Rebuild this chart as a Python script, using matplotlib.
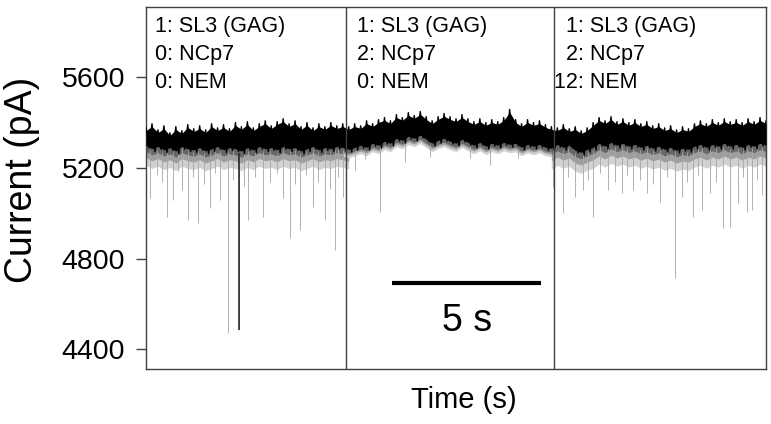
import numpy as np
import matplotlib.pyplot as plt
from matplotlib import transforms

plt.rcParams['font.family'] = ['Liberation Sans', 'DejaVu Sans']

# trace envelope read every 0.2 s (pA): upper edge and lower edge of the dense band
top_p1 = [5376, 5394, 5367, 5385, 5354, 5381, 5363, 5390, 5372, 5385, 5367, 5394,
          5376, 5390, 5372, 5399, 5381, 5403, 5376, 5394, 5407, 5385, 5403, 5416,
          5394, 5407, 5381, 5399, 5376, 5394, 5381, 5399, 5385, 5394]
bot_p1 = [5287, 5272, 5282, 5267, 5277, 5262, 5282, 5272, 5267, 5277, 5262, 5272,
          5282, 5267, 5277, 5272, 5262, 5277, 5267, 5282, 5272, 5277, 5267, 5282,
          5272, 5277, 5262, 5272, 5282, 5267, 5277, 5272, 5282, 5277]
top_p2 = [5381, 5394, 5385, 5407, 5394, 5412, 5421, 5407, 5434, 5421, 5443, 5430,
          5448, 5425, 5407, 5425, 5439, 5425, 5416, 5434, 5416, 5403, 5416, 5399,
          5412, 5403, 5421, 5457, 5412, 5394, 5412, 5399, 5407, 5390, 5381]
bot_p2 = [5269, 5278, 5287, 5278, 5296, 5287, 5305, 5296, 5318, 5309, 5327, 5318,
          5332, 5314, 5296, 5309, 5318, 5305, 5296, 5314, 5300, 5287, 5300, 5283,
          5296, 5287, 5300, 5291, 5296, 5278, 5291, 5283, 5291, 5278, 5274]
top_p3 = [5376, 5390, 5372, 5381, 5363, 5376, 5399, 5421, 5407, 5425, 5403, 5416,
          5399, 5412, 5394, 5403, 5385, 5394, 5376, 5385, 5367, 5381, 5372, 5394,
          5407, 5394, 5412, 5399, 5416, 5403, 5412, 5399, 5416, 5403, 5421, 5407]
bot_p3 = [5291, 5278, 5287, 5265, 5256, 5269, 5278, 5296, 5283, 5300, 5287, 5296,
          5283, 5291, 5278, 5287, 5274, 5283, 5269, 5278, 5265, 5274, 5269, 5283,
          5291, 5278, 5291, 5283, 5296, 5283, 5291, 5278, 5291, 5283, 5296, 5287]

# depth of the grey haze of small events below the band, per panel (pA)
haze_depth = [75, 25, 80]

# downward events: time (s) and lowest current (pA)
spike_t = [0.13, 0.70, 0.91, 1.21, 1.41, 1.74, 2.15, 2.48, 2.75, 3.12, 3.42, 3.93,
           4.60, 4.83, 5.17, 5.60, 6.01, 6.34, 6.61,
           0.37, 0.54, 1.07, 1.58, 1.95, 2.32, 2.92, 3.29, 3.66, 4.16, 4.40, 5.00,
           5.37, 5.77, 6.17, 6.44,
           7.01, 7.85, 8.69, 11.54, 12.48, 13.66, 7.35, 9.53, 10.87,
           13.99, 14.40, 14.66, 15.00, 15.50, 15.97, 16.34, 16.81, 17.25, 17.75,
           17.99, 18.36, 18.66, 18.93, 19.36, 19.60, 19.87, 20.17, 20.34, 20.67,
           14.16, 14.83, 15.23, 15.74, 16.14, 16.58, 17.01, 17.48, 18.15, 18.52,
           19.13, 20.03, 20.50]
spike_min = [5067, 4983, 5058, 5103, 4970, 4956, 5022, 5058, 4472, 4485, 4970, 4983,
             5067, 4892, 4925, 5027, 4970, 4839, 5071,
             5168, 5138, 5188, 5158, 5128, 5178, 5148, 5118, 5158, 5138, 5178, 5128,
             5168, 5138, 5108, 5158,
             5190, 5005, 5226, 5213, 5244, 5117, 5238, 5248, 5243,
             5000, 5071, 5103, 4983, 5103, 5090, 5103, 5089, 5049, 4715,
             5071, 4983, 5014, 5089, 4935, 4939, 5045, 5005, 5014, 5080,
             5158, 5148, 5178, 5138, 5168, 5148, 5128, 5158, 5138, 5168,
             5138, 5158, 5148]
dark_event_t = 3.12  # the one event drawn dark in the trace

panel_edges = [0.0, 6.71, 13.69, 20.8]
panel_counts = [["1", "0", "0"], ["1", "2", "0"], ["1", "2", "12"]]
panel_names = ["SL3 (GAG)", "NCp7", "NEM"]
y_ticks = [4400, 4800, 5200, 5600]
scale_bar = (8.26, 13.26, 4693)  # start, end (s), level (pA)

top = np.array(top_p1 + top_p2 + top_p3, dtype=float)
bot = np.array(bot_p1 + bot_p2 + bot_p3, dtype=float)
t = np.round(np.arange(len(top)) * 0.2, 1)

fig = plt.figure(figsize=(7.71, 4.24), dpi=100)
ax = fig.add_axes([0.1894, 0.1297, 0.8041, 0.8538])

# haze of small events under the band (reaches up into the band so its gaps look grey)
for i in range(3):
    m = (t >= panel_edges[i] - 0.2) & (t <= panel_edges[i + 1] + 0.2)
    ax.fill_between(t[m], bot[m] - haze_depth[i], bot[m] + 15, color='0.82', lw=0, zorder=1)
    ax.fill_between(t[m], bot[m] - haze_depth[i] * 0.55, bot[m] + 15, color='0.62', lw=0, zorder=1)
    ax.fill_between(t[m], bot[m] - haze_depth[i] * 0.2, bot[m] + 15, color='0.4', lw=0, zorder=1)

# events
sp_t = np.array(spike_t)
sp_min = np.array(spike_min)
ax.vlines(sp_t, sp_min, np.interp(sp_t, t, bot), color='0.65', lw=0.6, zorder=2)
k = np.abs(sp_t - dark_event_t).argmin()
ax.vlines(sp_t[k], sp_min[k], np.interp(sp_t[k], t, bot), color='0.1', lw=1.1, zorder=2)

# dense band: inner core plus trace swinging between the two edges
ax.fill_between(t, bot + 12, top - 12, color='black', lw=0, zorder=3)
tz = np.ravel(np.column_stack([t, t + 0.1]))
yz = np.ravel(np.column_stack([top, bot]))
ax.plot(tz, yz, color='black', lw=1.0, zorder=3)

for x in panel_edges[1:-1]:
    ax.axvline(x, color='0.25', lw=1.0, zorder=4)

# panel annotations, numbers aligned on the colon
fs = 15.5
digit = 0.556 * fs
starts = [0.30, 7.08, 14.09]
for i in range(3):
    for j in range(3):
        n = panel_counts[i][j]
        tr = transforms.offset_copy(ax.get_xaxis_transform(), fig=fig,
                                    x=-(len(n) - 1) * digit, units='points')
        ax.text(starts[i], 0.945 - 0.077 * j, n + ": " + panel_names[j],
                transform=tr, fontsize=fs, va='center', ha='left')

# 5 s scale bar
ax.plot(scale_bar[:2], [scale_bar[2]] * 2, color='black', lw=3, solid_capstyle='butt', zorder=5)
ax.text((scale_bar[0] + scale_bar[1]) / 2, 4525, "5 s", fontsize=27, ha='center', va='center')

ax.set_xlim(panel_edges[0], panel_edges[-1])
ax.set_ylim(4314, 5908)
ax.set_xticks([])
ax.set_yticks(y_ticks)
ax.set_yticklabels([str(v) for v in y_ticks])
ax.tick_params(axis='y', labelsize=20.5, length=7, width=1, color='0.25', pad=8)
for s in ax.spines.values():
    s.set_color('0.25')
    s.set_linewidth(1.0)

fig.text(22 / 771, 1 - 180 / 424, "Current (pA)", rotation=90, fontsize=27, ha='center', va='center')
fig.text(464 / 771, 1 - 400 / 424, "Time (s)", fontsize=21, ha='center', va='center')

fig.savefig('out.png', dpi=100)
